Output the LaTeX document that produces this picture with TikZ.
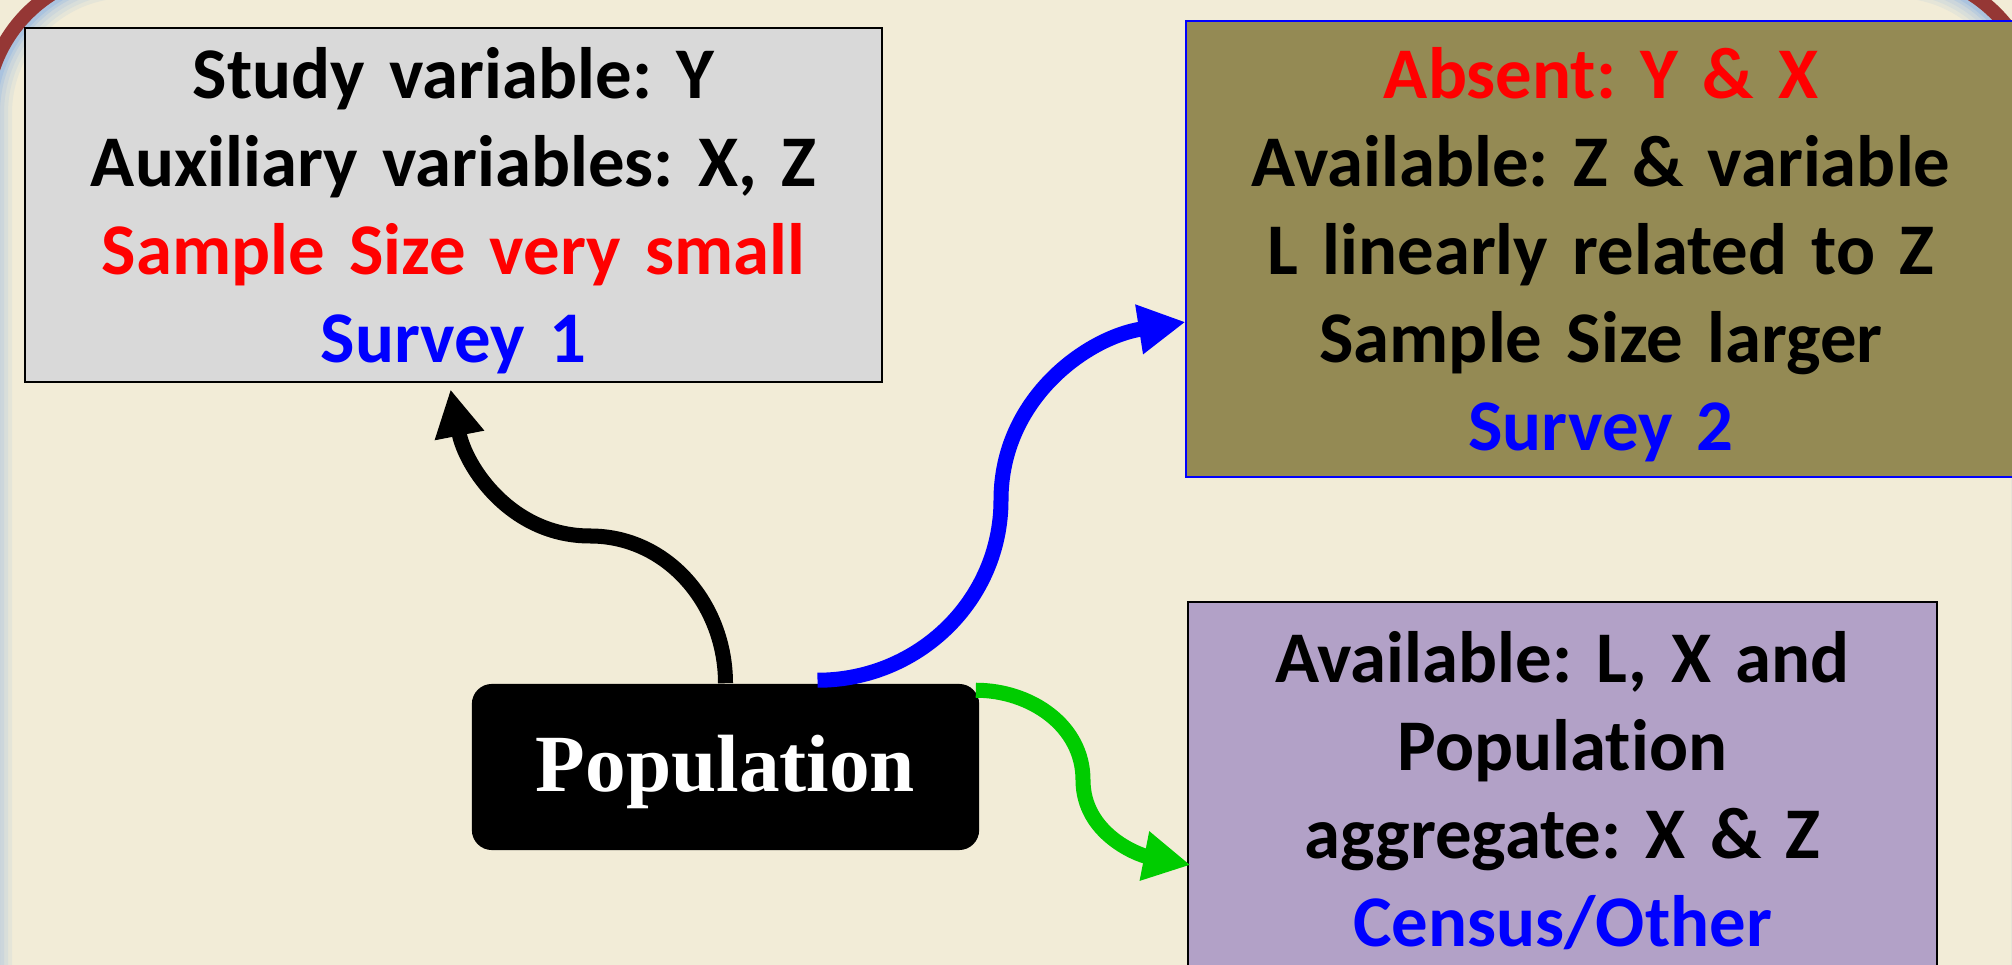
\documentclass[tikz,border=0pt]{standalone}
\usepackage{fontspec}
\setmainfont{Carlito}[Ligatures=NoCommon]
\newfontfamily\popfont{Liberation Serif}
\usetikzlibrary{arrows.meta,calc}
\definecolor{bgbeige}{HTML}{F2ECD7}
\definecolor{glowblue}{HTML}{9DBCE0}
\definecolor{framered}{HTML}{953735}
\definecolor{graybox}{HTML}{D9D9D9}
\definecolor{olivebox}{HTML}{948A54}
\definecolor{lilacbox}{HTML}{B2A1C7}
\definecolor{arrowgreen}{HTML}{00CC00}
\newcommand\capstrut[1][17.8pt]{\rule{0pt}{#1}}
\frenchspacing
\begin{document}
\begin{tikzpicture}[x=0.01cm,y=-0.01cm,
  infobox/.style={draw=#1,line width=0.7pt,inner sep=0pt,align=center,
    font=\fontsize{20.7}{25}\selectfont\bfseries},
  flow/.style={line width=0.15cm,-{Triangle[length=0.47cm,width=0.47cm]}},
  slideframe/.style={rounded corners=1.413cm}]
\useasboundingbox (0,0) rectangle (2012,965);
\fill[bgbeige] (0,0) rectangle (2012,965);
\begin{scope}
\clip[slideframe] (-14,-28) rectangle (2037,1100);
\foreach \w/\c in {52/15,44/30,36/45,28/65,22/85}
  \draw[slideframe,line width=\w*0.01cm,glowblue!\c!bgbeige] (-14,-28) rectangle (2037,1100);
\end{scope}
\draw[slideframe,line width=0.14cm,framered] (-14,-28) rectangle (2037,1100);

\node[infobox=black,fill=graybox,text width=8.57cm,minimum height=3.54cm] (survey1) at (453.5,205)
  {\capstrut Study variable: Y\\Auxiliary variables: X, Z\\\textcolor{red}{Sample Size very small}\\\textcolor{blue}{Survey 1}};
\node[infobox=blue,fill=olivebox,text width=8.30cm,minimum height=4.56cm] (survey2) at (1601,249)
  {\capstrut\textcolor{red}{Absent: Y \& X}\\Available: Z \& variable\\L linearly related to Z\\Sample Size larger\\\textcolor{blue}{Survey 2}};
\node[infobox=black,fill=lilacbox,text width=7.49cm,minimum height=3.74cm] (census) at (1562.5,789)
  {\capstrut[15.6pt]Available: L, X and\\Population\\aggregate: X \& Z\\\textcolor{blue}{Census/Other}};
\node[fill=black,text=white,rounded corners=0.2cm,inner sep=0pt,minimum width=5.07cm,minimum height=1.66cm,
  text height=18.6pt,font=\popfont\bfseries\fontsize{23.1}{27}\selectfont] (pop) at (725.5,767) {Population};

\coordinate (bendA) at (590,536);
\coordinate (bendB) at (1001,500);
\coordinate (bendC) at (1083,780);
\draw[flow,black] (pop.north) to[out=90,in=0] (bendA) to[out=180,in=-79] ($(survey1.south)+(-3,6)$);
\draw[flow,blue] ($(pop.north)+(92,-3)$) to[out=0,in=-90] (bendB) to[out=90,in=-171] ($(survey2.west)+(1,73)$);
\draw[flow,arrowgreen] ($(pop.north east)+(-4,7)$) to[out=0,in=90] (bendC) to[out=-90,in=169] ($(census.west)+(4,76)$);
\end{tikzpicture}
\end{document}
